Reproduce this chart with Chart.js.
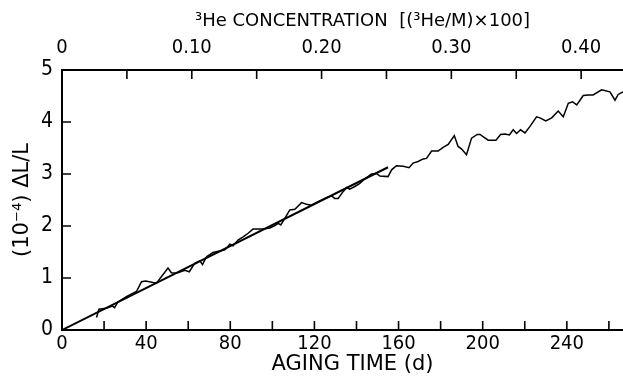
<!DOCTYPE html>
<html>
<head>
<meta charset="utf-8">
<script src="https://cdn.jsdelivr.net/npm/chart.js@4"></script>
<style>
    html, body { margin: 0; padding: 0; background: #fff; }
    #wrap { width: 623px; height: 379px; }
</style>
</head>
<body>
<div id="wrap"><canvas id="strain-chart" width="623" height="379"></canvas></div>
<script>
// aging time (days) and measured length change (1e-4)
const agingDays = [16.4, 17.6, 21.1, 24.0, 25.0, 26.6, 30.6, 35.4, 37.8, 39.8, 44.9, 50.4, 52.0, 54.4,
    58.4, 60.5, 63.1, 65.5, 66.8, 68.7, 71.8, 75.0, 77.4, 79.8, 81.3, 83.7, 86.1, 88.5, 90.8, 93.2,
    95.6, 98.8, 101.2, 102.8, 104.0, 106.0, 108.3, 110.7, 113.9, 116.2, 118.6, 121.8, 125.0, 128.1,
    129.7, 131.3, 133.6, 135.3, 136.8, 139.2, 141.6, 143.2, 147.1, 149.5, 151.1, 155.0, 156.7, 159.0,
    162.2, 165.0, 166.9, 169.3, 171.7, 173.3, 175.7, 178.8, 181.2, 183.6, 186.5, 188.3, 190.0, 192.3,
    194.7, 197.4, 198.7, 202.6, 206.3, 208.5, 210.6, 212.7, 214.5, 216.1, 218.0, 220.1, 222.4, 225.6,
    227.2, 230.0, 232.8, 235.9, 238.3, 240.7, 242.7, 244.7, 247.8, 250.2, 252.5, 256.5, 260.5, 262.9,
    264.4, 266.7];
const strain = [0.24, 0.40, 0.42, 0.46, 0.43, 0.54, 0.64, 0.74, 0.93, 0.94, 0.90, 1.19, 1.10, 1.09,
    1.15, 1.12, 1.28, 1.33, 1.26, 1.41, 1.49, 1.52, 1.54, 1.65, 1.62, 1.73, 1.79, 1.86, 1.94, 1.94,
    1.94, 1.96, 2.01, 2.05, 2.02, 2.15, 2.31, 2.32, 2.45, 2.42, 2.40, 2.47, 2.53, 2.58,
    2.53, 2.53, 2.66, 2.74, 2.71, 2.76, 2.82, 2.88, 3.00, 3.01, 2.96, 2.95, 3.08, 3.16,
    3.15, 3.12, 3.21, 3.24, 3.29, 3.30, 3.44, 3.44, 3.51, 3.57, 3.74, 3.53, 3.48, 3.37,
    3.69, 3.76, 3.76, 3.65, 3.65, 3.76, 3.77, 3.75, 3.85, 3.78, 3.85, 3.79, 3.91, 4.10,
    4.08, 4.02, 4.08, 4.21, 4.10, 4.36, 4.39, 4.33, 4.51, 4.52, 4.52, 4.62, 4.58, 4.42,
    4.53, 4.58];

// straight-line fit
const fitDays = [0, 155];
const fitStrain = [0, 3.13];

// axes
const dayMax = 266.7;
const daysPerConc = 617;   // days per unit of (3He/M)x100
const dayTicks = [0, 20, 40, 60, 80, 100, 120, 140, 160, 180, 200, 220, 240, 260];
const concTicks = [0, 0.05, 0.10, 0.15, 0.20, 0.25, 0.30, 0.35, 0.40];
const concTickLabels = ['0', '', '0.10', '', '0.20', '', '0.30', '', '0.40'];
const strainTicks = [0, 1, 2, 3, 4, 5];
const topTitle = '\u00b3He CONCENTRATION  [(\u00b3He/M)\u00d7100]';
const bottomTitle = 'AGING TIME (d)';

const TICK_FONT = "'DejaVu Sans Condensed', 'Liberation Sans Narrow', sans-serif";
const TITLE_FONT = "'DejaVu Sans', sans-serif";

// tick marks pointing into the plot; the two x titles sit off-centre because the
// original plot runs on past the right edge of the picture
const axisExtras = {
    id: 'axisExtras',
    afterDraw(chart) {
        const ctx = chart.ctx;
        const area = chart.chartArea;
        ctx.save();
        ctx.strokeStyle = '#000';
        ctx.lineWidth = 1.6;
        ctx.beginPath();
        chart.scales.x.ticks.forEach(t => {
            if (t.value === 0) return;
            const px = chart.scales.x.getPixelForValue(t.value);
            ctx.moveTo(px, area.bottom);
            ctx.lineTo(px, area.bottom - 9);
        });
        chart.scales.x2.ticks.forEach(t => {
            if (t.value === 0) return;
            const px = chart.scales.x2.getPixelForValue(t.value);
            ctx.moveTo(px, area.top);
            ctx.lineTo(px, area.top + 9);
        });
        chart.scales.y.ticks.forEach(t => {
            if (t.value === 0 || t.value === 5) return;
            const py = chart.scales.y.getPixelForValue(t.value);
            ctx.moveTo(area.left, py);
            ctx.lineTo(area.left + 9, py);
        });
        ctx.stroke();

        const mid = (area.left + area.right) / 2;
        ctx.fillStyle = '#000';
        ctx.textAlign = 'center';
        ctx.textBaseline = 'middle';
        ctx.font = '18px ' + TITLE_FONT;
        ctx.fillText(topTitle, mid + 20, 21);
        ctx.font = '21px ' + TITLE_FONT;
        ctx.fillText(bottomTitle, mid + 10, 365);
        ctx.restore();
    }
};

function drawStrainChart() {
    const ctx = document.getElementById('strain-chart').getContext('2d');
    const measured = agingDays.map((d, i) => ({ x: d, y: strain[i] }));
    const fit = fitDays.map((d, i) => ({ x: d, y: fitStrain[i] }));

    window.strainChart = new Chart(ctx, {
        type: 'line',
        data: {
            datasets: [{
                label: 'measured',
                data: measured,
                borderColor: '#000',
                borderWidth: 1.5,
                pointRadius: 0,
                tension: 0,
                fill: false
            }, {
                label: 'fit',
                data: fit,
                borderColor: '#000',
                borderWidth: 2,
                pointRadius: 0,
                tension: 0,
                fill: false
            }]
        },
        options: {
            responsive: false,
            animation: false,
            layout: { padding: 0 },
            plugins: {
                legend: { display: false },
                tooltip: { enabled: false }
            },
            scales: {
                x: {
                    type: 'linear',
                    position: 'bottom',
                    min: 0,
                    max: dayMax,
                    afterBuildTicks: scale => {
                        scale.ticks = dayTicks.map(v => ({ value: v }));
                    },
                    afterFit: scale => { scale.height = 49; },
                    grid: { display: false, drawTicks: false },
                    border: { display: true, color: '#000', width: 2 },
                    ticks: {
                        autoSkip: false,
                        maxRotation: 0,
                        padding: 2,
                        color: '#000',
                        font: { family: TICK_FONT, size: 20 },
                        callback: v => (v % 40 === 0 ? String(v) : '')
                    },
                    title: { display: false }
                },
                x2: {
                    type: 'linear',
                    position: 'top',
                    min: 0,
                    max: dayMax / daysPerConc,
                    afterBuildTicks: scale => {
                        scale.ticks = concTicks.map(v => ({ value: v }));
                    },
                    afterFit: scale => { scale.height = 70; },
                    grid: { display: false, drawTicks: false },
                    border: { display: true, color: '#000', width: 2 },
                    ticks: {
                        autoSkip: false,
                        maxRotation: 0,
                        padding: 10,
                        color: '#000',
                        font: { family: TICK_FONT, size: 20 },
                        callback: (v, i) => concTickLabels[i]
                    },
                    title: { display: false }
                },
                y: {
                    type: 'linear',
                    min: 0,
                    max: 5,
                    afterBuildTicks: scale => {
                        scale.ticks = strainTicks.map(v => ({ value: v }));
                    },
                    afterFit: scale => { scale.width = 62; },
                    grid: { display: false, drawTicks: false },
                    border: { display: true, color: '#000', width: 2 },
                    ticks: {
                        padding: 9,
                        color: '#000',
                        font: { family: TICK_FONT, size: 21 }
                    },
                    title: {
                        display: true,
                        text: '(10\u207b\u2074) \u0394L/L',
                        color: '#000',
                        font: { family: TITLE_FONT, size: 21 },
                        padding: { top: 10, bottom: 0 }
                    }
                }
            }
        },
        plugins: [axisExtras]
    });
}

document.addEventListener('DOMContentLoaded', drawStrainChart);
</script>
</body>
</html>
